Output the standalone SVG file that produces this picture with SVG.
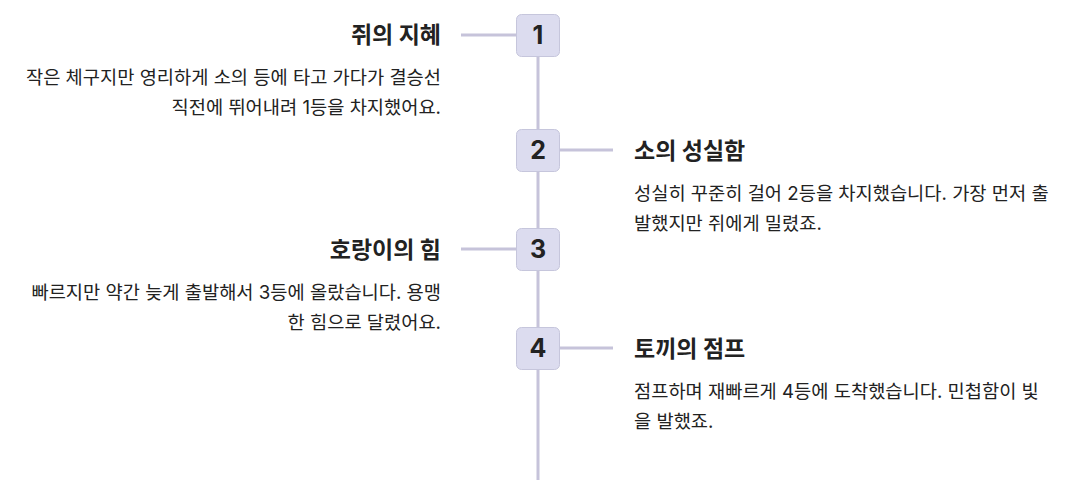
<svg xmlns="http://www.w3.org/2000/svg" width="1080" height="480" viewBox="0 0 1080 480">
<style>
text{font-family:Inter,"Noto Sans CJK KR",sans-serif;fill:#222}
.t{font-size:23px;font-weight:700}
.d{font-size:18.7px}
.n{font-size:25px;font-weight:700;text-anchor:middle}
.r{text-anchor:end}
.box{fill:#dcdcef;stroke:#c6c6dc;stroke-width:1}
.ln{stroke:#c6c3da;stroke-width:3;fill:none}
</style>
<rect width="1080" height="480" fill="#fff"/>
<g id="connectors">
<line class="ln" x1="538" y1="40" x2="538" y2="480"/>
<line class="ln" x1="461" y1="35" x2="516" y2="35"/>
<line class="ln" x1="560" y1="150" x2="613" y2="150"/>
<line class="ln" x1="461" y1="249" x2="516" y2="249"/>
<line class="ln" x1="560" y1="348" x2="613" y2="348"/>
</g>
<g id="node1">
<rect class="box" x="516.5" y="14.5" width="43" height="42" rx="5"/>
<text class="n" x="538" y="44">1</text>
<text class="t r" x="441" y="43">쥐의 지혜</text>
<text class="d r" x="441" y="84">작은 체구지만 영리하게 소의 등에 타고 가다가 결승선</text>
<text class="d r" x="441" y="114">직전에 뛰어내려 1등을 차지했어요.</text>
</g>
<g id="node2">
<rect class="box" x="516.5" y="129.5" width="43" height="42" rx="5"/>
<text class="n" x="538" y="159">2</text>
<text class="t" x="634" y="159">소의 성실함</text>
<text class="d" x="634" y="200">성실히 꾸준히 걸어 2등을 차지했습니다. 가장 먼저 출</text>
<text class="d" x="634" y="230">발했지만 쥐에게 밀렸죠.</text>
</g>
<g id="node3">
<rect class="box" x="516.5" y="228.5" width="43" height="42" rx="5"/>
<text class="n" x="538" y="258">3</text>
<text class="t r" x="441" y="258">호랑이의 힘</text>
<text class="d r" x="441" y="299">빠르지만 약간 늦게 출발해서 3등에 올랐습니다. 용맹</text>
<text class="d r" x="441" y="329">한 힘으로 달렸어요.</text>
</g>
<g id="node4">
<rect class="box" x="516.5" y="327.5" width="43" height="42" rx="5"/>
<text class="n" x="538" y="357">4</text>
<text class="t" x="634" y="357">토끼의 점프</text>
<text class="d" x="634" y="398">점프하며 재빠르게 4등에 도착했습니다. 민첩함이 빛</text>
<text class="d" x="634" y="428">을 발했죠.</text>
</g>
</svg>
